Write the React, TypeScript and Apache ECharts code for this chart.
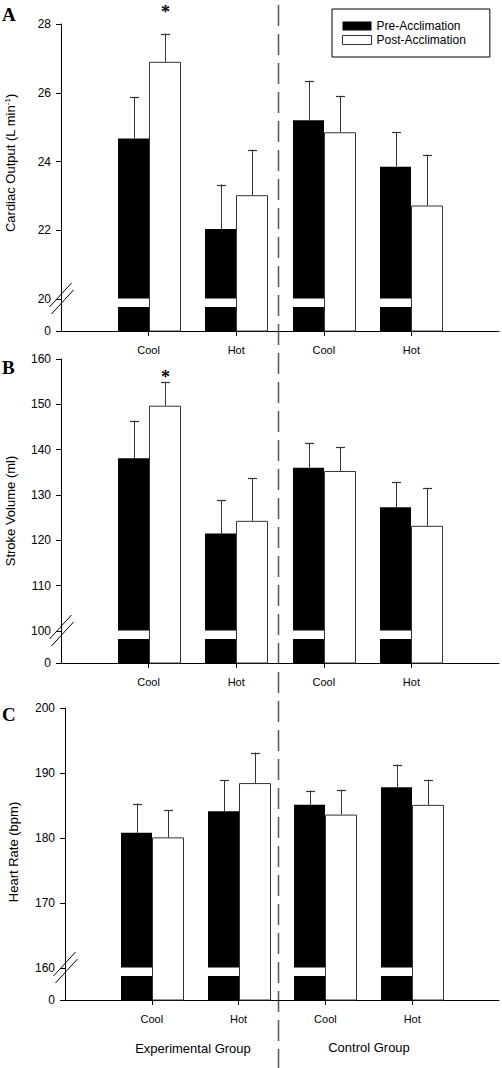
import React, { useEffect, useRef } from 'react';
import * as echarts from 'echarts';

// ---------- data ----------
const categories = ['', 'Cool', 'Hot', 'Cool', 'Hot', ''];
const categoryIndex = [1, 2, 3, 4];
const seriesNames = ['Pre-Acclimation', 'Post-Acclimation'];
const groupLabels = ['Experimental Group', 'Control Group'];

// Panel A – Cardiac output (L min-1)
const coPre = [24.67, 22.04, 25.2, 23.85];
const coPreErr = [1.21, 1.29, 1.15, 1.01];
const coPost = [26.9, 23.02, 24.85, 22.72];
const coPostErr = [0.82, 1.32, 1.05, 1.48];
const coStar = [28.36, null, null, null];
const coTicks = [20, 22, 24, 26, 28];

// Panel B – Stroke volume (ml)
const svPre = [138.1, 121.5, 136.0, 127.3];
const svPreErr = [8.3, 7.3, 5.5, 5.5];
const svPost = [149.7, 124.3, 135.3, 123.2];
const svPostErr = [5.2, 9.4, 5.3, 8.3];
const svStar = [156.1, null, null, null];
const svTicks = [100, 110, 120, 130, 140, 150, 160];

// Panel C – Heart rate (bpm)
const hrPre = [180.8, 184.1, 185.1, 187.8];
const hrPreErr = [4.5, 4.8, 2.2, 3.5];
const hrPost = [180.1, 188.45, 183.6, 185.1];
const hrPostErr = [4.2, 4.7, 3.8, 3.9];
const hrStar = [null, null, null, null];
const hrTicks = [160, 170, 180, 190, 200];

// ---------- layout ----------
const FONT = "'Liberation Sans', Arial, sans-serif";
const SERIF = "'Liberation Serif', 'Times New Roman', serif";
const GAP_PX = 32;

const panels = [
  {
    letter: 'A', letterY: 14,
    title: 'Cardiac Output (L min{sup|-1})', titleX: 10, titleY: 163,
    grid: { left: 61, top: 24, width: 439, height: 307 },
    ticks: coTicks, pre: coPre, preErr: coPreErr, post: coPost, postErr: coPostErr, star: coStar,
  },
  {
    letter: 'B', letterY: 367,
    title: 'Stroke Volume (ml)', titleX: 10, titleY: 511,
    grid: { left: 61, top: 359, width: 439, height: 304 },
    ticks: svTicks, pre: svPre, preErr: svPreErr, post: svPost, postErr: svPostErr, star: svStar,
  },
  {
    letter: 'C', letterY: 714,
    title: 'Heart Rate (bpm)', titleX: 13, titleY: 852,
    grid: { left: 65, top: 708, width: 435, height: 292 },
    ticks: hrTicks, pre: hrPre, preErr: hrPreErr, post: hrPost, postErr: hrPostErr, star: hrStar,
  },
];

function makeRender(kind: 'pre' | 'post', breakAt: number, lowMin: number) {
  return (params: any, api: any) => {
    const xi = api.value(0);
    const v = api.value(1);
    const e = api.value(2);
    const s = api.value(3);
    const [cx, yTop] = api.coord([xi, v]);
    const yErr = api.coord([xi, v + e])[1];
    const yBreak = api.coord([xi, breakAt])[1];
    const yBase = api.coord([xi, lowMin])[1];
    const bw = Math.round(api.size([1, 0])[0] * 0.355);
    const x0 = Math.round(kind === 'pre' ? cx - bw : cx);
    const children: any[] = [];
    if (kind === 'pre') {
      children.push({
        type: 'rect',
        shape: { x: x0, y: yTop, width: bw, height: yBreak - 0.5 - yTop },
        style: { fill: '#000' },
      });
      children.push({
        type: 'rect',
        shape: { x: x0, y: yBreak + 8, width: bw, height: yBase - yBreak - 8 },
        style: { fill: '#000' },
      });
      if (params.dataIndex === 0) {
        const ax = api.coord([0, breakAt])[0];
        const offs = [
          [ax - 0.5, yBreak - 4],
          [ax + 1.5, yBreak + 3],
        ];
        offs.forEach(([bx, by]) => {
          children.push({
            type: 'line',
            shape: { x1: bx - 11, y1: by + 12, x2: bx + 11, y2: by - 12 },
            style: { stroke: '#000', lineWidth: 1 },
          });
        });
      }
    } else {
      children.push({
        type: 'rect',
        shape: { x: x0 + 0.5, y: yTop + 0.5, width: bw, height: yBase - yTop - 0.5 },
        style: { fill: '#fff', stroke: '#333', lineWidth: 1 },
      });
    }
    const bx = Math.round(x0 + bw / 2) + 0.5;
    children.push({
      type: 'line',
      shape: { x1: bx, y1: yTop, x2: bx, y2: yErr },
      style: { stroke: '#333', lineWidth: 1 },
    });
    children.push({
      type: 'line',
      shape: { x1: bx - 4.5, y1: Math.round(yErr) + 0.5, x2: bx + 4.5, y2: Math.round(yErr) + 0.5 },
      style: { stroke: '#333', lineWidth: 1.2 },
    });
    if (!isNaN(s)) {
      const ys = api.coord([xi, s])[1];
      children.push({
        type: 'text',
        x: bx,
        y: ys,
        style: {
          text: '*', fontSize: 18, fontWeight: 'bold', fontFamily: SERIF,
          align: 'center', verticalAlign: 'middle', fill: '#000',
        },
      });
    }
    return { type: 'group', children };
  };
}

export default function App() {
  const ref = useRef<HTMLDivElement>(null);

  useEffect(() => {
    document.body.style.margin = '0';
    if (!ref.current) return;
    const chart = echarts.init(ref.current, undefined, { renderer: 'svg' });

    const grids: any[] = [];
    const xAxes: any[] = [];
    const yAxes: any[] = [];
    const series: any[] = [];
    const graphics: any[] = [];

    panels.forEach((p, i) => {
      const breakAt = p.ticks[0];
      const max = p.ticks[p.ticks.length - 1];
      const lowMin = breakAt - (GAP_PX * (max - breakAt)) / (p.grid.height - GAP_PX);
      grids.push({ ...p.grid, containLabel: false });
      xAxes.push({
        type: 'category',
        gridIndex: i,
        data: categories,
        boundaryGap: false,
        axisLine: { lineStyle: { color: '#000', width: 1 } },
        axisTick: {
          show: true,
          length: 5,
          interval: (idx: number) => idx >= 1 && idx <= 4,
          lineStyle: { color: '#000' },
        },
        axisLabel: {
          interval: 0,
          margin: 13,
          fontSize: 11,
          fontFamily: FONT,
          color: '#000',
        },
        splitLine: { show: false },
      });
      const tickVals = [lowMin, ...p.ticks];
      yAxes.push({
        type: 'value',
        gridIndex: i,
        min: lowMin,
        max,
        axisLine: { show: true, lineStyle: { color: '#000', width: 1 } },
        axisTick: { show: true, length: 5, customValues: tickVals, lineStyle: { color: '#000' } },
        axisLabel: {
          customValues: tickVals,
          margin: 10,
          fontSize: 12,
          fontFamily: FONT,
          color: '#000',
          formatter: (val: number) => (val < breakAt - 1e-6 ? '0' : String(Math.round(val))),
        },
        splitLine: { show: false },
      });
      const preData = categoryIndex.map((c, k) => [c, p.pre[k], p.preErr[k], null]);
      const postData = categoryIndex.map((c, k) => [c, p.post[k], p.postErr[k], p.star[k]]);
      series.push({
        type: 'custom',
        name: seriesNames[0],
        xAxisIndex: i,
        yAxisIndex: i,
        silent: true,
        itemStyle: { color: '#000' },
        renderItem: makeRender('pre', breakAt, lowMin),
        data: preData,
      });
      series.push({
        type: 'custom',
        name: seriesNames[1],
        xAxisIndex: i,
        yAxisIndex: i,
        silent: true,
        itemStyle: { color: '#fff' },
        renderItem: makeRender('post', breakAt, lowMin),
        data: postData,
      });
      graphics.push({
        type: 'text',
        x: 2,
        y: p.letterY,
        style: {
          text: p.letter, fontSize: 19, fontWeight: 'bold', fontFamily: SERIF,
          fill: '#000', align: 'left', verticalAlign: 'middle',
        },
      });
      graphics.push({
        type: 'text',
        x: p.titleX,
        y: p.titleY,
        rotation: Math.PI / 2,
        style: {
          text: p.title, fontSize: 13, fontFamily: FONT, fill: '#000',
          align: 'center', verticalAlign: 'middle',
          rich: { sup: { fontSize: 8, fontFamily: FONT, verticalAlign: 'top', padding: [0, 0, 6, 0] } },
        },
      });
    });

    graphics.push({
      type: 'line',
      shape: { x1: 278.5, y1: 5, x2: 278.5, y2: 1068 },
      style: { stroke: '#555', lineWidth: 1.5, lineDash: [21, 8] },
    });
    graphics.push({
      type: 'text', x: 193, y: 1048,
      style: { text: groupLabels[0], fontSize: 13, fontFamily: FONT, fill: '#000', align: 'center', verticalAlign: 'middle' },
    });
    graphics.push({
      type: 'text', x: 369, y: 1047,
      style: { text: groupLabels[1], fontSize: 13, fontFamily: FONT, fill: '#000', align: 'center', verticalAlign: 'middle' },
    });

    chart.setOption({
      animation: false,
      backgroundColor: '#fff',
      grid: grids,
      xAxis: xAxes,
      yAxis: yAxes,
      legend: {
        left: 332,
        top: 9,
        orient: 'vertical',
        padding: [11, 24, 11, 10],
        itemWidth: 29,
        itemHeight: 9,
        itemGap: 2,
        borderColor: '#000',
        borderWidth: 1,
        borderRadius: 0,
        selectedMode: false,
        textStyle: { fontSize: 12, fontFamily: FONT, color: '#000' },
        data: [
          { name: seriesNames[0], icon: 'rect', itemStyle: { color: '#000', borderWidth: 0 } },
          { name: seriesNames[1], icon: 'rect', itemStyle: { color: '#fff', borderColor: '#333', borderWidth: 1 } },
        ],
      },
      series,
      graphic: graphics,
    });

    return () => chart.dispose();
  }, []);

  return <div ref={ref} style={{ width: 502, height: 1068 }} />;
}
